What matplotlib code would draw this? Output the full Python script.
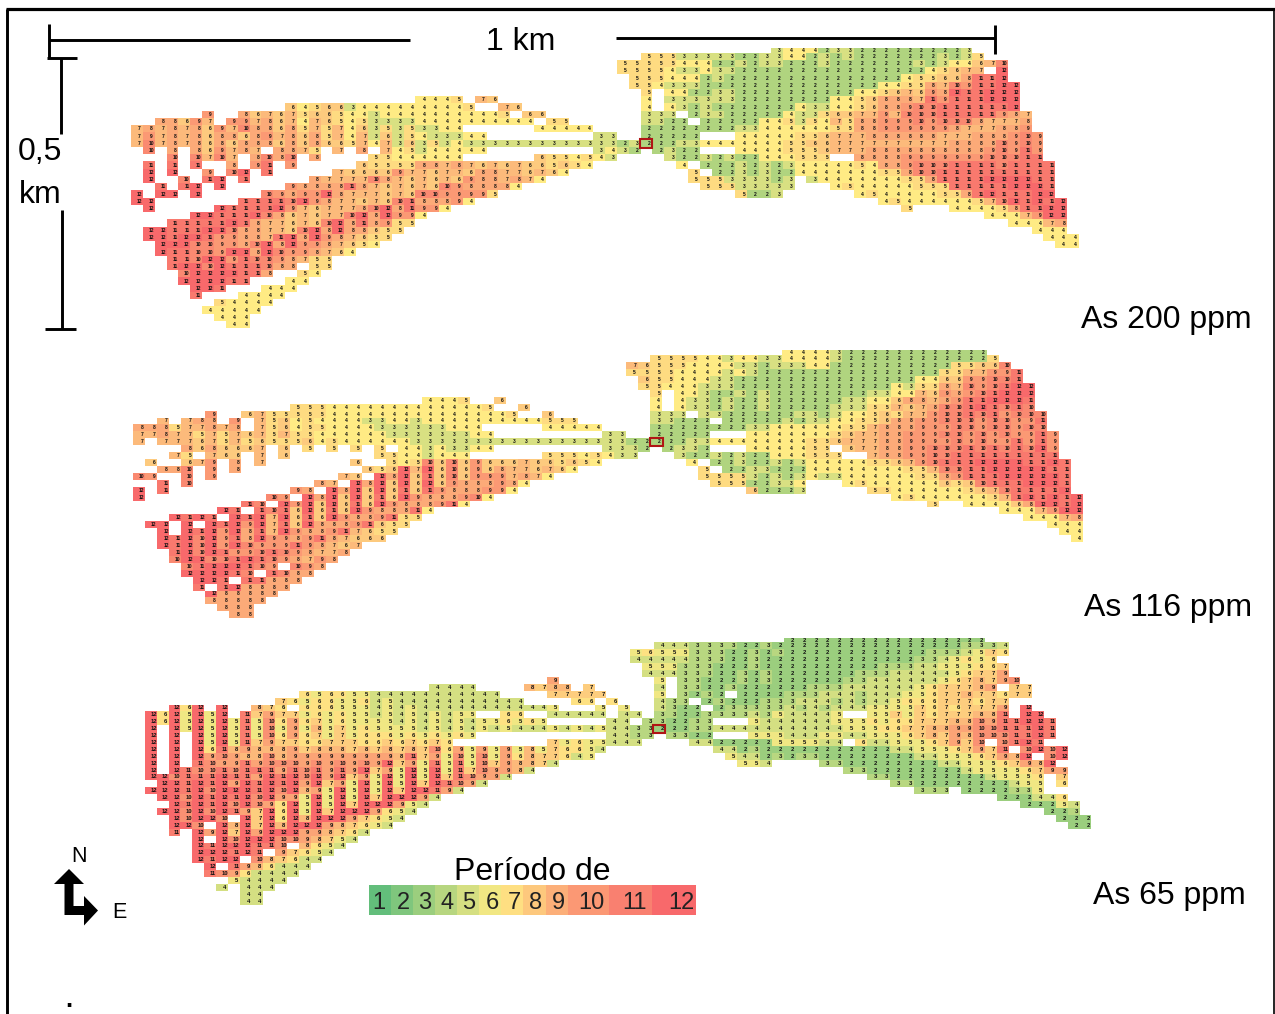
import matplotlib
matplotlib.use("Agg")
import matplotlib.pyplot as plt
import numpy as np
from matplotlib.colors import LinearSegmentedColormap
from matplotlib.patches import Polygon, Rectangle

plt.rcParams['font.family'] = ['Liberation Sans', 'DejaVu Sans']

# Each row: "start:values start:values", values in base 13 (a=10, b=11, c=12)
P1_LEFT = [
"24:4445 29:76",
"13:6456634444444445 31:76",
"6:9 9:867675665443 21:4444444444 31:5 33:66",
"2:88697 8:9978674765453333 24:4444444444 35:55",
"0:787878697a886857574635353344 34:44444",
"0:7978786886897868574736354333 28:44 39:33",
"0:7a78786868886868665747363534 28:3333333333333",
"1:a 3:8 5:869787 12:8875 17:7 19:8 21:745344444 39:34",
"3:a 5:a7a7 10:8a8a 15:8 20:55444444 34:6554543",
"1:b 3:b 5:b 8:8 10:9b 13:9 19:65555887876767665654",
"1:c 3:c 6:9 8:ac 11:b 17:76666977677688776764",
"1:c 4:a 6:bc 9:b 15:87777a87676769887874",
"2:b 4:bc 7:c 13:98888b8767676a988884",
"0:c 2:cc 5:c 11:a9899c8777676aa99995",
"0:cc 9:bbbbac9877676ab88894",
"1:c 7:cbbbbc9767778ac8b994",
"5:ccbbbca867677ac8c994",
"3:bbbbbcb877676ac8b8955",
"1:ccbbbcca88776ac8c88655",
"1:ccbccb99887bc8c987655",
"2:cccaa998ac8c9987654",
"2:cbbaa9cc8ca998764",
"3:bbacc9baa98755",
"3:bccacbbba88 15:55",
"4:accccbb8 14:54",
"4:ccccbb 13:44",
"5:ccb 11:444",
"5:b 9:4444",
"7:54444",
"6:44444",
"7:444",
"8:44",
]
P1_RIGHT = [
"15:34442332222222223",
"4:55533333223344232322222223235",
"2:55555444223233222322222223234467a",
"2:5555433433222222222222222245677 34:c",
"3:55544423222222222222222455668bbc",
"3:554333222222222222222445587a9bbcc",
"4:5 6:442233222222222244567698cbbccc",
"4:4 6:3333332222222244568887b9bbbccc",
"4:4 6:432322222224334456889aabbbbbbc",
"4:333 8:233222224335667797aaabbbbb987",
"4:3322 9:222224453547588999a9aaa87778",
"4:2222222233444444558899999987778 89",
"4:22222 12:44444556777888888777888 9a9",
"2:23222334444444556677777777778888a9a9",
"2:32 5:2322 12:4444555677788888888889a9b9",
"6:32232322444555 22:88889999999aaabb",
"7:4 9:2223232344444 22:54889aaabbbbabbbb",
"8:5 10:22323224444444558aabbbbbbbbbb",
"8:555333323 18:34444444558bbbbccccbb",
"9:55533333 20:4544444555bbbbbcccb",
"12:5223 22:4544444558bcbbbcc",
"24:4544444457acbcbc",
"26:5 30:444458bbcc",
"33:44479cc",
"35:44478",
"37:444",
"38:444",
"39:44",
]
P2_LEFT = [
"24:4445 30:6",
"13:55544444444444445 32:6",
"6:9 9:6755555444444444444444 31:5 34:6",
"2:7 4:788 8:9 10:75645444433443 24:4444444444 34:555",
"0:888577878 10:7564554444333333444 34:44444",
"0:778775757675755444444333333344 39:33",
"0:7 2:777675756555645444444333333333333333333",
"4:8686667 12:6 14:5 16:5 18:5 20:5 22:44343344 39:33",
"3:75 6:766 10:7 12:6 20:55443444 34:5554543",
"1:6 4:679 8:8 10:7 18:6 21:545a6a696667665654",
"2:88a 6:9 8:8 19:656c7c6a6968776764",
"0:a9 4:a 6:9 17:76 20:c8c6b6a69997874",
"2:b 4:a 15:87 18:c8c6c6c69888984",
"0:c 2:b 13:98 16:c8c6c6b6b9888994",
"0:c 11:a9 14:c8c6c6b6c98889a4",
"9:ba 12:c9c6c6b6c98889b4",
"7:cb 10:bab6c6b6c9888b4",
"3:cbcb 8:cbc7c6b6c9889b55",
"1:cc 4:c 6:cbc9c7b6c8889b655",
"2:c 4:cbc9c8b7c9889b7655",
"2:cbcac9b8c9989b87666",
"2:cbcac9ca999b98767",
"3:bcacb99aba98778",
"3:accaabcba98798",
"4:abcccba9 13:a98",
"4:ccccba 11:ba88",
"5:ccb 9:bb888",
"5:b 7:bc8888",
"6:c88888",
"6:88888",
"7:888",
"8:88",
]
P2_RIGHT = [
"15:44443222222222222",
"4:55554434433444432222222222225",
"2:7655544443323334422222222225566a",
"2:55554444343222222222222222557799b",
"3:65544433222222222222222446699aab",
"3:55444333222222222222243 5587a9abcc",
"4:5 6:4432232322222222334476989abccc",
"4:4 6:4332322322222233 44688789bbcccb",
"4:4 6:4332322322222333557678aabcbaba",
"4:333 8:33222222332344565779aabab9aaa",
"4:33222 10:222223233445568899aaa9aa99b",
"4:22222222334444445 5 7888999aa9aa9aa",
"4:22222 12:4444444567788999aa9a9a99b9",
"2:2222233444444445567778899 99a9a99b9b9",
"2:32 5:2332 12:4444455 20:6778899aaabababac9",
"2:3 6:32232322444555 22:788 99aabbbbbbbbb",
"7:4 9:223223234444455679abbbccccbbcb",
"8:5 10:223322244444444557aabbcccccbb",
"8:555532323433444444 26:5589bbbcccccb",
"9:55522334 20:45444444656abbbcccb",
"12:62223 22:55444444567abbbbc",
"24:4544444457bcbcbc",
"27:5 30:444468ccbc",
"33:44479cc",
"35:44478",
"37:444",
"38:44",
"39:4",
]
P3_LEFT = [
"34:9",
"24:4444 32:8788 37:7",
"13:65665544444444444 34:77777",
"11:765665564544444444444 36:66 39:6",
"2:c6c 6:c 9:876 13:66655545454444444444 4 34:5 38:5 40:5",
"0:c6c5c5c 8:b797756565545454545 5 30:66 34:44444 40:4",
"0:c6c5c5c5b5a696756555545454545 56565 39:44",
"0:c 2:c5c5c5b5a5958575655555 23:4545454 30:5444 34:5454544",
"0:c 2:c 4:c5c5b5a69675756665656565 39:44",
"0:c 2:c 4:c5c5b79776677767 19:6767676 34:75655 39:44",
"0:c 2:c 4:c6b8988897888 17:7878787 24:a695959585 34:76654",
"0:c 2:c 4:c9a988a8999999999 21:8b795a5a596877645",
"0:c 2:c 4:ba99b9aaa9a9a9a9c795b5b5a798874",
"0:c 2:cbaababbb9bab9b9c795c5c5b7a9984",
"0:ccabbbcbb9cbcac9c795c5c5c7ba994",
"1:ccbcbc9cbcbc9c795c5c5c7cba94",
"0:cccbcacccbcac895c5c5c7ccb94",
"1:ccacbcbcac995c5c5c7ccc94",
"2:cbcbcaca96c5c5c7ccc954",
"1:ccacacb97c6c5c7ccc9654",
"2:cacca 8:c7c6c8ccc97654",
"2:cca 6:c8c7c8ccc987654",
"2:b 4:c9c7c9ccc998764",
"4:c 6:cacccaa98754",
"4:cbcccbba 13:8654",
"4:cccbcb 11:97654",
"4:cbcc 9:a87644",
"5:c 7:b986444",
"5:ba964444",
"7:54444",
"6:4 8:444",
"8:44",
"8:44",
]
P3_RIGHT = [
"15:22222222222222222",
"4:444333322322222222222222223334",
"2:5655533322323 15:222222222222333457 33:6",
"2:44444333223 13:2222222222222 26:33456 31:56",
"3:5553332223 13:2222222222 23:333445556 32:67",
"3:44433322323 14:2222222 21:3334444456 31:779",
"4:5 6:33222323 14:222222 20:33444444 28:567879a",
"4:4 6:33223 11:222222 17:333444444 26:5677789 34:77",
"4:5 6:3232 11:2222333444344455677877677",
"4:433 8:232223334443434456667776 32:77",
"4:4322 9:233333434344455557676 30:7779 35:c",
"2:4 4:3322333343544445 22:557576777 88b 35:cc",
"3:332233 12:5444444555656677 7 29:88a9bbccb",
"2:3322233444444444445556677889 9aabbbcb",
"2:33 5:3322 12:5554445544555678798aaabbcb",
"2:4 7:44 9:22222 14:555544 21:6445556797a 33:abcb",
"9:44232 14:2222222222 24:445556797b 35:acac",
"10:54423233 18:22222222 26:445556798c 37:ac",
"11:554 18:3322222222 28:445556798c",
"20:3322222222 30:455556799",
"22:3322222222 32:45556 38:7",
"24:3322222222 34:455 38:6",
"26:333 30:2222335",
"33:222446",
"35:22254",
"37:223",
"38:222",
"39:22",
]

LEGEND_VALUES = [1, 2, 3, 4, 5, 6, 7, 8, 9, 10, 11, 12]
LEGEND_EDGES = [369, 391, 413, 435, 457, 479, 501, 523, 546, 568, 609, 652, 696]
LEGEND_LABEL_X = [379, 403, 425, 447, 469, 492, 514, 536, 558, 591, 635, 681]
PANEL_LABELS = ["As 200 ppm", "As 116 ppm", "As 65 ppm"]

GREEN, YELLOW, RED = "#63BE7B", "#FFEB84", "#F8696B"


def parse(left, right, row_shift, ncols=80):
    grid = np.full((len(right), ncols), np.nan)
    extra = max(0, len(left) + row_shift - len(right))
    grid = np.vstack([grid, np.full((extra, ncols), np.nan)])
    for rows, rshift, cshift in ((left, row_shift, 0), (right, 0, 39)):
        for r, spec in enumerate(rows):
            col = None
            for tok in spec.split():
                if ":" in tok:
                    s, vals = tok.split(":")
                    col = int(s)
                else:
                    vals = tok
                for ch in vals:
                    grid[r + rshift, col + cshift] = int(ch, 16)
                    col += 1
    return grid


def scale(mid, lo=0.0, hi=12.0):
    pos = (mid - lo) / (hi - lo)
    return LinearSegmentedColormap.from_list("s", [(0, GREEN), (pos, YELLOW), (1, RED)])


fig = plt.figure(figsize=(12.75, 10.14), dpi=100)
ax = fig.add_axes([0, 0, 1, 1])
ax.set_xlim(0, 1275)
ax.set_ylim(1014, 0)
ax.axis("off")

panels = [
    (parse(P1_LEFT, P1_RIGHT, 7), 131.0, 11.85, 45.4, 7.25, 48.0, 4.0, 3.6, (639.5, 139, 12, 8.6)),
    (parse(P2_LEFT, P2_RIGHT, 7), 133.3, 12.02, 348.3, 6.92, 350.0, 4.0, 3.6, (650.3, 437.7, 12.4, 8)),
    (parse(P3_LEFT, P3_RIGHT, 6), 145.0, 11.83, 635.5, 6.9, 638.0, 5.5, 4.2, (652.7, 725.3, 12.3, 7.7)),
]
for grid, x0, w, y0, h, top, mid, fs, box in panels:
    xe = x0 + w * np.arange(grid.shape[1] + 1)
    ye = y0 + h * np.arange(grid.shape[0] + 1)
    ye[0] = top
    ax.pcolormesh(xe, ye, np.ma.masked_invalid(grid), cmap=scale(mid), vmin=0, vmax=12,
                  shading="flat", antialiased=False, zorder=2)
    for r, c in zip(*np.nonzero(~np.isnan(grid))):
        ax.text(xe[c] + w * 0.72, (ye[r] + ye[r + 1]) / 2, str(int(grid[r, c])), fontsize=fs,
                ha="center", va="center", color="#111111", fontweight="bold", zorder=3)
    ax.add_patch(Rectangle(box[:2], box[2], box[3], fill=False, ec="#B01515", lw=1.5, zorder=4))

# legend
legend_map = LinearSegmentedColormap.from_list("l", [(0, GREEN), (0.5, YELLOW), (1, RED)])
ax.pcolormesh(LEGEND_EDGES, [885, 915], np.array([LEGEND_VALUES]), cmap=legend_map, vmin=1, vmax=12,
              shading="flat", zorder=2)
for lx, v in zip(LEGEND_LABEL_X, LEGEND_VALUES):
    ax.text(lx, 903, str(v), fontsize=17, ha="center", va="center", color="#222222", zorder=3)
ax.text(532, 872, "Período de", fontsize=23, ha="center", va="center", color="black")

# frame
ax.plot([7.3, 7.3], [1014, 9], color="black", lw=2.1, solid_capstyle="butt", zorder=5)
ax.plot([6, 1275], [9, 9], color="black", lw=2.3, solid_capstyle="butt", zorder=5)
ax.plot([1274, 1274], [9, 1014], color="black", lw=1.2, solid_capstyle="butt", zorder=5)

# scale bars
for xs, ys in (([49, 410], [39.5, 39.5]), ([616, 995], [38, 38]), ([49, 49], [24, 58]), ([995, 995], [25, 54]),
               ([60.5, 60.5], [58, 134]), ([62, 62], [210, 328.5]), ([47, 77], [57.5, 57.5]), ([45, 76], [328.5, 328.5])):
    ax.plot(xs, ys, color="black", lw=2.1, solid_capstyle="butt", zorder=5)
ax.text(521, 42, "1 km", fontsize=23, ha="center", va="center")
ax.text(40, 152, "0,5", fontsize=23, ha="center", va="center")
ax.text(40, 195, "km", fontsize=23, ha="center", va="center")
for (lx, ly), t in zip([(1166, 320), (1168, 608), (1169, 896)], PANEL_LABELS):
    ax.text(lx, ly, t, fontsize=23, ha="center", va="center")

# north arrow
ax.add_patch(Polygon([(69, 869), (84, 884), (73.5, 884), (73.5, 906), (84, 906), (84, 896), (98, 910.5),
                      (84, 925.5), (84, 915), (64.5, 915), (64.5, 884), (54, 884)], fc="black", ec="none", zorder=5))
ax.text(79, 857, "N", fontsize=15.5, ha="center", va="center")
ax.text(119, 912, "E", fontsize=15.5, ha="center", va="center")
ax.text(69, 1000, ".", fontsize=18, fontweight="bold", ha="center", va="center")

fig.savefig("out.png", dpi=100, facecolor="white")
